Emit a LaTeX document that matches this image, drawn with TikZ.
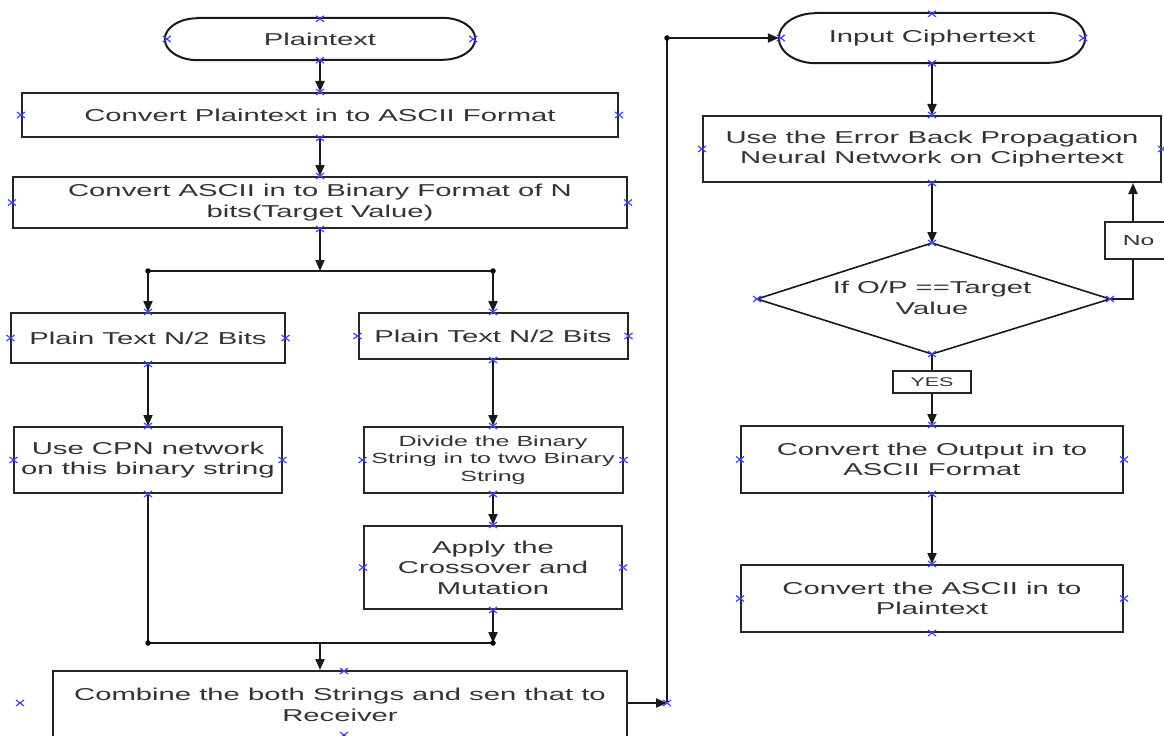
\documentclass[tikz,border=0pt]{standalone}
\usepackage{fontspec}
\setmainfont[FakeStretch=1.7]{Liberation Sans}
\usetikzlibrary{arrows.meta}
\begin{document}
\begin{tikzpicture}[x=1bp,y=-1bp,
  txt/.style={inner sep=0pt,align=center,text=black!80,font=\fontsize{17.2bp}{20.5bp}\selectfont},
  box/.style={txt,draw=black!85,line width=2bp,rectangle},
  arr/.style={draw=black!90,line width=2bp,-{Triangle[length=11bp,width=9bp]}},
  ln/.style={draw=black!90,line width=2bp},
  dot/.style={circle,fill=black,inner sep=0pt,minimum size=5.5bp},
  cpm/.style={draw=blue!75!white,line width=1.2bp}]
\useasboundingbox (0,0) rectangle (1164,736);
\clip (0,0) rectangle (1164,736);
\tikzset{cp/.pic={\draw[cpm] (-4,-3)--(4,3) (-4,3)--(4,-3);}}

% ---------- left column ----------
\node[txt,minimum width=310bp,minimum height=42bp] (t1) at (320,39) {Plaintext};
\draw[ln] ([xshift=33bp]t1.north west) -- ([xshift=-33bp]t1.north east)
  arc[start angle=90,end angle=-90,x radius=33bp,y radius=21bp]
  -- ([xshift=33bp]t1.south west)
  arc[start angle=270,end angle=90,x radius=33bp,y radius=21bp] -- cycle;

\node[box,minimum width=596bp,minimum height=44bp] (b1) at (320,115) {Convert Plaintext in to ASCII Format};
\node[box,minimum width=614bp,minimum height=51bp] (b2) at (320,202.5) {Convert ASCII in to Binary Format of N\\bits(Target Value)};
\node[box,minimum width=273bp,minimum height=50bp] (b3) at (148,338) {Plain Text N/2 Bits};
\node[box,minimum width=269bp,minimum height=46bp] (b4) at (493,336) {Plain Text N/2 Bits};
\node[box,minimum width=267bp,minimum height=66bp] (b5) at (148,460) {Use CPN network\\on this binary string};
\node[box,minimum width=259bp,minimum height=66bp,font=\fontsize{14.7bp}{17.5bp}\selectfont] (b6) at (493,460) {Divide the Binary\\String in to two Binary\\String};
\node[box,minimum width=258bp,minimum height=83bp] (b7) at (493,567.5) {Apply the\\Crossover and\\Mutation};
\node[box,minimum width=574bp,minimum height=68bp] (b8) at (340,705) {Combine the both Strings and sen that to\\Receiver};

\coordinate (j1) at (320,271);
\coordinate (j1l) at (148,271);
\coordinate (j1r) at (493,271);
\coordinate (j2l) at (148,643);
\coordinate (j2r) at (493,643);
\coordinate (j2m) at (320,643);
\coordinate (c1) at (667,703);
\coordinate (c2) at (667,38);

\draw[arr] (t1.south) -- (b1.north);
\draw[arr] (b1.south) -- (b2.north);
\draw[arr] (b2.south) -- (j1);
\draw[ln] (j1l) -- (j1r);
\node[dot] at (j1l) {};
\node[dot] at (j1r) {};
\draw[arr] (j1l) -- (j1l |- b3.north);
\draw[arr] (j1r) -- (j1r |- b4.north);
\draw[arr] (b3.south) -- (b5.north);
\draw[arr] (b4.south) -- (b6.north);
\draw[arr] (b6.south) -- (b7.north);
\draw[arr] (b7.south) -- (j2r);
\draw[ln] (b5.south) -- (j2l) -- (j2r);
\node[dot] at (j2l) {};
\node[dot] at (j2r) {};
\draw[arr] (j2m) -- (j2m |- b8.north);
\draw[arr] (b8.east |- c1) -- (c1);
\draw[ln] (c1) -- (c2);
\node[dot] at (c2) {};

% ---------- right column ----------
\node[txt,minimum width=306bp,minimum height=50bp] (t2) at (932,38) {Input Ciphertext};
\draw[ln] ([xshift=37bp]t2.north west) -- ([xshift=-37bp]t2.north east)
  arc[start angle=90,end angle=-90,x radius=37bp,y radius=25bp]
  -- ([xshift=37bp]t2.south west)
  arc[start angle=270,end angle=90,x radius=37bp,y radius=25bp] -- cycle;
\draw[arr] (c2) -- (t2.west);

\node[box,minimum width=458bp,minimum height=66bp] (b9) at (932,149) {Use the Error Back Propagation\\Neural Network on Ciphertext};

\coordinate (dt) at (932,243);
\coordinate (dl) at (757,299);
\coordinate (dr) at (1110,299);
\coordinate (db) at (932,354);
\draw[ln,line width=1.6bp] (dt) -- (dr) -- (db) -- (dl) -- cycle;
\node[txt] (d) at (932,298) {If O/P ==Target\\Value};

\node[box,minimum width=67bp,minimum height=37bp,font=\fontsize{14.5bp}{17bp}\selectfont] (no) at (1138.5,240.5) {No};
\node[box,minimum width=78bp,minimum height=22bp,font=\fontsize{12.6bp}{15bp}\selectfont] (yes) at (932,382) {YES};
\node[box,minimum width=382bp,minimum height=67bp] (b10) at (932,459.5) {Convert the Output in to\\ASCII Format};
\node[box,minimum width=382bp,minimum height=67bp] (b11) at (932,598.5) {Convert the ASCII in to\\Plaintext};

\coordinate (nr) at (1133,299);
\draw[arr] (t2.south) -- (b9.north);
\draw[arr] (b9.south) -- (dt);
\draw[ln] (dr) -- (nr) -- (nr |- no.south);
\draw[arr] (nr |- no.north) -- (nr |- b9.south);
\draw[ln] (db) -- (yes.north);
\draw[arr] (yes.south) -- (b10.north);
\draw[arr] (b10.south) -- (b11.north);

% ---------- connection points ----------
\foreach \n in {b1,b2,b3,b4,b5,b6,b7,b9,b10,b11}{
  \pic at (\n.north) {cp}; \pic at (\n.south) {cp};
  \pic at (\n.east) {cp}; \pic at (\n.west) {cp};}
\foreach \n in {t1,t2}{
  \pic at ([yshift=-1bp]\n.north) {cp}; \pic at (\n.south) {cp};
  \pic at ([xshift=2bp]\n.west) {cp}; \pic at ([xshift=-2bp]\n.east) {cp};}
\foreach \c in {dt,dl,dr,db}{\pic at (\c) {cp};}
\pic at (344,671) {cp};
\pic at (344,735) {cp};
\pic at (20,703) {cp};
\pic at (c1) {cp};
\end{tikzpicture}
\end{document}
